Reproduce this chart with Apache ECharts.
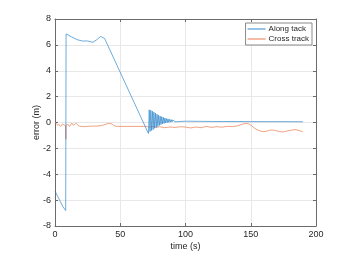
<!DOCTYPE html>
<html><head><meta charset="utf-8">
<script src="https://cdn.jsdelivr.net/npm/echarts@6/dist/echarts.min.js"></script>
<style>html,body{margin:0;padding:0;background:#fff}#c{width:359px;height:261px}</style>
</head><body><div id="c"></div>
<script>
var seriesNames = ['Along tack', 'Cross track'];
var xTicks = [0, 50, 100, 150, 200];
var yTicks = [-8, -6, -4, -2, 0, 2, 4, 6, 8];

var alongT = [0, 2, 4, 6, 8.2, 8.5, 10, 13, 17, 21, 25, 29, 32, 35, 36.5, 38, 71.6,
  72.2, 72.8, 73.4, 74.0, 74.6, 75.2, 75.8, 76.4, 77.0, 77.6, 78.2, 78.8, 79.4, 80.0,
  80.6, 81.2, 81.8, 82.4, 83.0, 83.6, 84.2, 84.8, 85.4, 86.0, 86.6, 87.2, 87.8, 88.4,
  89.0, 89.6, 90.2, 90.8, 91.4, 92.0, 93, 94, 95, 96, 97, 98, 100, 120, 150, 190];
var alongV = [-5.3, -5.7, -6.1, -6.5, -6.8, 6.85, 6.8, 6.6, 6.4, 6.3, 6.3, 6.2, 6.4, 6.65, 6.7, 6.5, -0.85,
  0.98, -0.7, 0.95, -0.62, 0.88, -0.55, 0.8, -0.45, 0.72, -0.38, 0.64, -0.3, 0.56, -0.22,
  0.5, -0.16, 0.45, -0.11, 0.4, -0.07, 0.35, -0.04, 0.31, -0.01, 0.28, 0.01, 0.25, 0.03,
  0.22, 0.04, 0.2, 0.05, 0.18, 0.06, 0.16, 0.07, 0.14, 0.08, 0.12, 0.09, 0.1, 0.08, 0.07, 0.06];

var crossT = [0, 1, 2, 3, 4, 5, 6, 7, 8, 8.3, 8.6, 10, 11, 12, 13, 14, 15, 16, 17, 18, 20, 22, 25, 28, 31, 34, 37, 40, 42, 44, 46, 50, 60, 70,
  72, 75, 78, 80, 84, 88, 92, 96, 100, 104, 108, 112, 116, 120, 124, 128, 132, 136, 140, 144, 147, 150, 153, 157, 160, 163, 166, 169, 172, 175, 178, 181, 184, 187, 190];
var crossV = [0.05, -0.1, -0.2, -0.15, -0.3, -0.25, -0.1, -0.2, -0.25, -1.3, -0.2, -0.15, -0.3, -0.2, -0.05, -0.2, -0.15, -0.05, -0.15, -0.25, -0.3, -0.32, -0.3, -0.28, -0.28, -0.26, -0.2, -0.1, -0.07, -0.15, -0.28, -0.3, -0.3, -0.3,
  -0.35, -0.3, -0.38, -0.32, -0.4, -0.35, -0.38, -0.33, -0.35, -0.42, -0.35, -0.4, -0.3, -0.38, -0.32, -0.36, -0.3, -0.32, -0.25, -0.12, -0.07, -0.2, -0.45, -0.65, -0.7, -0.65, -0.58, -0.62, -0.7, -0.72, -0.65, -0.6, -0.55, -0.62, -0.72];

function pairs(t, v) { return t.map(function (x, i) { return [x, v[i]]; }); }

var axisCol = '#6b6b6b';
var txtCol = '#262626';
var font = 'Liberation Sans';
var blue = '#2f86cc';
var orange = '#e8774a';

var chart = echarts.init(document.getElementById('c'), null, {renderer: 'canvas'});
var baseX = {type: 'value', min: xTicks[0], max: xTicks[xTicks.length - 1], interval: 50};
var baseY = {type: 'value', min: yTicks[0], max: yTicks[yTicks.length - 1], interval: 2};
chart.setOption({
  animation: false,
  grid: {left: 55, right: 43, top: 19, bottom: 35},
  legend: {
    data: [{name: seriesNames[0], icon: 'rect'}, {name: seriesNames[1], icon: 'rect'}],
    orient: 'vertical', right: 47, top: 23,
    itemWidth: 18, itemHeight: 1, itemGap: 2,
    padding: [2, 3, 2, 2],
    borderColor: '#8a8a8a', borderWidth: 1, backgroundColor: '#fff',
    textStyle: {fontFamily: font, fontSize: 8, color: txtCol, padding: [0, 0, 0, -2]}
  },
  xAxis: [
    Object.assign({}, baseX, {
      position: 'bottom', name: 'time (s)', nameLocation: 'middle', nameGap: 16, nameMoveOverlap: false,
      nameTextStyle: {fontFamily: font, fontSize: 9, color: txtCol},
      axisLine: {onZero: false, lineStyle: {color: axisCol}},
      axisTick: {inside: true, length: 3, lineStyle: {color: axisCol}},
      axisLabel: {fontFamily: font, fontSize: 9, color: txtCol, margin: 4},
      splitLine: {show: true, lineStyle: {color: '#e8e8e8', width: 1}}
    }),
    Object.assign({}, baseX, {
      position: 'top',
      axisLine: {onZero: false, lineStyle: {color: axisCol}},
      axisTick: {inside: true, length: 3, lineStyle: {color: axisCol}},
      axisLabel: {show: false}, splitLine: {show: false}
    })
  ],
  yAxis: [
    Object.assign({}, baseY, {
      position: 'left', name: 'error (m)', nameLocation: 'middle', nameGap: 14, nameMoveOverlap: false,
      nameTextStyle: {fontFamily: font, fontSize: 9, color: txtCol},
      axisLine: {onZero: false, lineStyle: {color: axisCol}},
      axisTick: {inside: true, length: 3, lineStyle: {color: axisCol}},
      axisLabel: {fontFamily: font, fontSize: 9, color: txtCol, margin: 4},
      splitLine: {show: true, lineStyle: {color: '#e8e8e8', width: 1}}
    }),
    Object.assign({}, baseY, {
      position: 'right',
      axisLine: {onZero: false, lineStyle: {color: axisCol}},
      axisTick: {inside: true, length: 3, lineStyle: {color: axisCol}},
      axisLabel: {show: false}, splitLine: {show: false}
    })
  ],
  series: [
    {name: seriesNames[0], type: 'line', data: pairs(alongT, alongV), showSymbol: false, symbol: 'none',
      lineStyle: {color: blue, width: 0.7}, itemStyle: {color: blue}, z: 3},
    {name: seriesNames[1], type: 'line', data: pairs(crossT, crossV), showSymbol: false, symbol: 'none',
      smooth: 0.3, lineStyle: {color: orange, width: 0.7}, itemStyle: {color: orange}, z: 2}
  ]
});
</script></body></html>
